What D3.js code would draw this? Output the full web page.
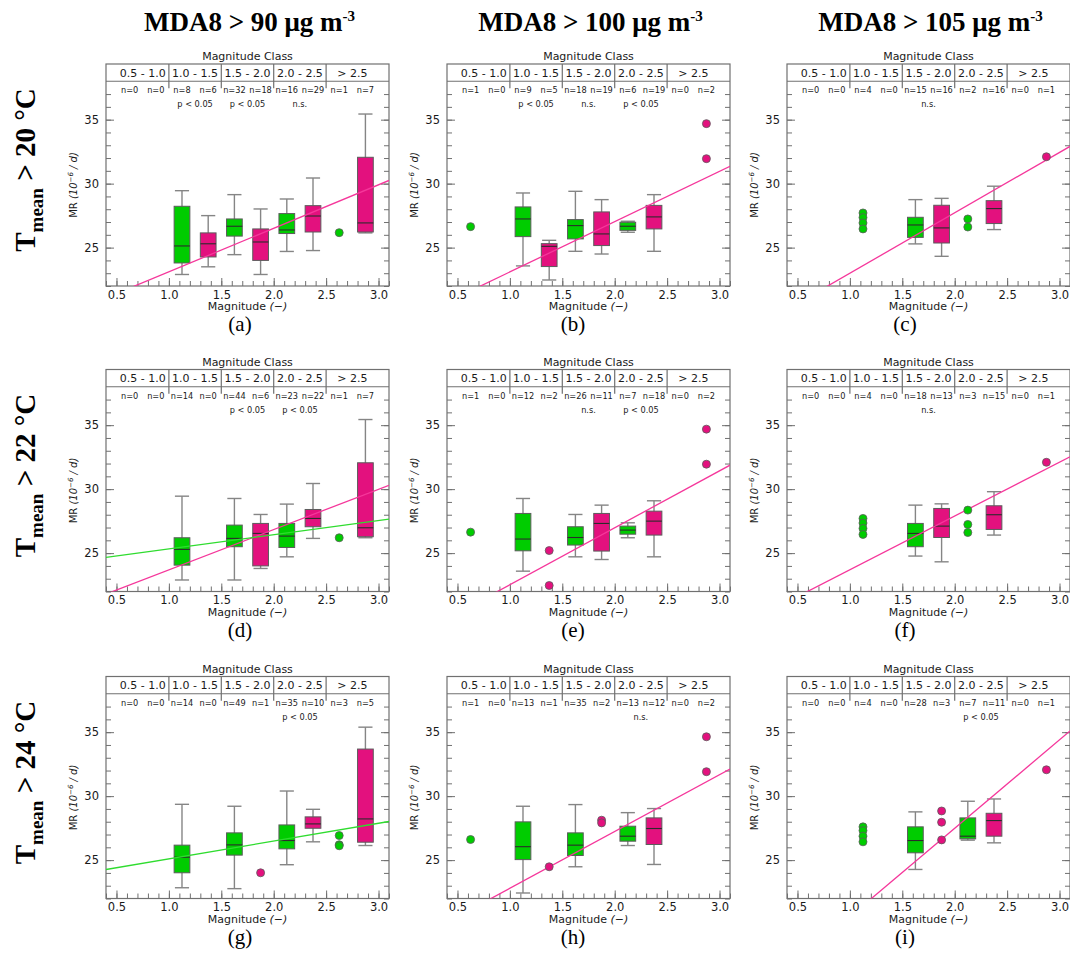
<!DOCTYPE html>
<html>
<head>
<meta charset="utf-8">
<script src="https://cdn.jsdelivr.net/npm/d3@7"></script>
<style>
  body { margin: 0; background: #fff; }
  svg { display: block; }
</style>
</head>
<body>
<div id="chart"></div>
<script>
// ---- data -------------------------------------------------------------
const classLabels = ['0.5 - 1.0', '1.0 - 1.5', '1.5 - 2.0', '2.0 - 2.5', '> 2.5'];
const classCenters = [0.75, 1.25, 1.75, 2.25, 2.75];
const classEdges = [1.0, 1.5, 2.0, 2.5];
const groupPos = [0.625, 0.875, 1.125, 1.375, 1.625, 1.875, 2.125, 2.375, 2.625, 2.875];
const xTicks = [0.5, 1.0, 1.5, 2.0, 2.5, 3.0];
const yTicks = [25, 30, 35];

const colTitles = ['MDA8 > 90 μg m', 'MDA8 > 100 μg m', 'MDA8 > 105 μg m'];
const rowTemps = ['20', '22', '24'];
const panelTags = ['(a)', '(b)', '(c)', '(d)', '(e)', '(f)', '(g)', '(h)', '(i)'];

// n per group (green, magenta alternating by class)
const nCounts = [
  [0, 0, 8, 6, 32, 18, 16, 29, 1, 7],
  [1, 0, 9, 5, 18, 19, 6, 19, 0, 2],
  [0, 0, 4, 0, 15, 16, 2, 16, 0, 1],
  [0, 0, 14, 0, 44, 6, 23, 22, 1, 7],
  [1, 0, 12, 2, 26, 11, 7, 18, 0, 2],
  [0, 0, 4, 0, 18, 13, 3, 15, 0, 1],
  [0, 0, 14, 0, 49, 1, 35, 10, 3, 5],
  [1, 0, 13, 1, 35, 2, 13, 12, 0, 2],
  [0, 0, 4, 0, 28, 3, 7, 11, 0, 1],
];
const pTests = [
  ['', 'p < 0.05', 'p < 0.05', 'n.s.', ''],
  ['', 'p < 0.05', 'n.s.', 'p < 0.05', ''],
  ['', '', 'n.s.', '', ''],
  ['', '', 'p < 0.05', 'p < 0.05', ''],
  ['', '', 'n.s.', 'p < 0.05', ''],
  ['', '', 'n.s.', '', ''],
  ['', '', '', 'p < 0.05', ''],
  ['', '', '', 'n.s.', ''],
  ['', '', '', 'p < 0.05', ''],
];

// box stats: [magnitude, low whisker, q1, median, q3, high whisker]
const greenBoxes = [
  [[1.125, 22.9, 23.8, 25.13, 28.23, 29.45], [1.625, 24.45, 25.9, 26.67, 27.24, 29.14], [2.125, 24.7, 26.1, 26.38, 27.66, 28.8]],
  [[1.125, 23.57, 25.86, 27.24, 28.18, 29.27], [1.625, 24.71, 25.68, 26.72, 27.19, 29.4], [2.125, 26.2, 26.35, 26.67, 26.98, 27.06]],
  [[1.625, 25.29, 25.8, 26.77, 27.37, 28.75]],
  [[1.125, 22.9, 24.06, 25.29, 26.2, 29.45], [1.625, 22.9, 25.5, 26.15, 27.19, 29.27], [2.125, 24.71, 25.44, 26.33, 27.32, 28.83]],
  [[1.125, 23.59, 25.18, 26.1, 28.1, 29.27], [1.625, 24.71, 25.63, 26.22, 27.06, 28.02], [2.125, 26.2, 26.48, 26.8, 27.11, 27.37]],
  [[1.625, 24.77, 25.5, 26.54, 27.32, 28.75]],
  [[1.125, 22.84, 24.01, 25.23, 26.17, 29.36], [1.625, 22.77, 25.39, 26.19, 27.13, 29.21], [2.125, 24.64, 25.88, 26.53, 27.75, 30.4]],
  [[1.125, 22.43, 25.04, 26.05, 27.99, 29.21], [1.625, 24.48, 25.36, 26.17, 27.13, 29.34], [2.125, 26.14, 26.48, 26.87, 27.65, 28.71]],
  [[1.625, 24.27, 25.57, 26.53, 27.6, 28.77], [2.125, 26.56, 26.66, 26.87, 28.3, 29.6]],
];
const magentaBoxes = [
  [[1.375, 23.5, 24.27, 25.3, 26.15, 27.5], [1.875, 22.9, 24.0, 25.44, 26.46, 28.02], [2.375, 24.77, 26.22, 27.47, 28.28, 30.44], [2.875, 26.15, 26.22, 26.93, 32.06, 35.44]],
  [[1.375, 22.47, 23.52, 25.1, 25.31, 25.57], [1.875, 24.5, 25.16, 26.07, 27.79, 28.75], [2.375, 24.71, 26.46, 27.4, 28.3, 29.14]],
  [[1.875, 24.32, 25.36, 26.54, 28.31, 28.85], [2.375, 26.41, 26.88, 28.05, 28.67, 29.8]],
  [[1.875, 23.8, 24.0, 26.54, 27.32, 28.02], [2.375, 26.15, 27.06, 27.71, 28.41, 30.44], [2.875, 26.2, 26.28, 26.98, 32.06, 35.44]],
  [[1.875, 24.5, 25.16, 27.32, 28.1, 28.75], [2.375, 24.71, 26.41, 27.5, 28.28, 29.09]],
  [[1.875, 24.32, 26.22, 27.11, 28.49, 28.85], [2.375, 26.41, 26.85, 28.0, 28.7, 29.8]],
  [[2.375, 26.43, 27.49, 27.83, 28.38, 28.97], [2.875, 26.14, 26.4, 28.22, 33.68, 35.39]],
  [[2.375, 24.66, 26.22, 27.47, 28.3, 29.03]],
  [[2.375, 26.35, 26.87, 28.09, 28.66, 29.78]],
];

// single observations: [magnitude, MR]
const greenPoints = [
  [[2.625, 26.17]],
  [[0.625, 26.64]],
  [[1.125, 27.71], [1.125, 27.35], [1.125, 26.93], [1.125, 26.46], [2.125, 27.24], [2.125, 26.61]],
  [[2.625, 26.2]],
  [[0.625, 26.64]],
  [[1.125, 27.71], [1.125, 27.35], [1.125, 26.93], [1.125, 26.46], [2.125, 28.36], [2.125, 27.24], [2.125, 26.61]],
  [[2.625, 26.92], [2.625, 26.2], [2.625, 26.12]],
  [[0.625, 26.61]],
  [[1.125, 27.6], [1.125, 27.31], [1.125, 26.87], [1.125, 26.43]],
];
const magentaPoints = [
  [],
  [[2.875, 34.69], [2.875, 31.95]],
  [[2.875, 32.1]],
  [],
  [[1.375, 25.2], [1.375, 22.47], [2.875, 34.69], [2.875, 31.95]],
  [[2.875, 32.1]],
  [[1.875, 24.01]],
  [[1.375, 24.48], [1.875, 28.12], [1.875, 27.91], [2.875, 34.64], [2.875, 31.91]],
  [[1.875, 28.84], [1.875, 27.96], [1.875, 26.58], [2.875, 32.06]],
];

// linear fits: [slope, intercept] or null
const magentaFits = [[3.4, 19.71], [3.93, 19.17], [4.72, 18.28], [3.15, 20.54], [4.45, 18.08], [4.2, 19.5], null, [4.44, 18.36], [6.91, 13.67]];
const greenFits = [null, null, null, [1.11, 24.22], null, null, [1.39, 23.71], null, null];

// ---- layout -----------------------------------------------------------
const W = 1070, H = 965;
const colLeft = [106, 447, 787];
const rowTop = [64, 369.5, 676.5];
const plotW = 283, plotH = 222;
const C = {
  green: '#00cc00', magenta: '#e3117e',
  greenLine: '#2fdc2f', magentaLine: '#f5379b',
  frame: '#707070', whisker: '#858585', edge: '#5c5c5c', median: '#2b2b2b', text: '#1a1a1a',
};
const SANS = 'DejaVu Sans, sans-serif';
const SERIF = 'Liberation Serif, Times New Roman, serif';

const svg = d3.select('#chart').append('svg')
  .attr('width', W).attr('height', H)
  .attr('viewBox', `0 0 ${W} ${H}`);

// column titles
colTitles.forEach((t, c) => {
  const txt = svg.append('text')
    .attr('x', colLeft[c] + plotW / 2 + 2).attr('y', 31)
    .attr('text-anchor', 'middle')
    .attr('font-family', SERIF).attr('font-weight', 'bold').attr('font-size', 27)
    .attr('fill', '#000')
    .text(t);
  txt.append('tspan').attr('dy', -10).attr('font-size', 15).text('-3');
});

// row labels
rowTemps.forEach((t, r) => {
  const cy = rowTop[r] + plotH / 2 - 5;
  const g = svg.append('g').attr('transform', `translate(35,${cy}) rotate(-90)`);
  const txt = g.append('text')
    .attr('text-anchor', 'middle')
    .attr('font-family', SERIF).attr('font-weight', 'bold').attr('font-size', 29)
    .attr('fill', '#000');
  txt.append('tspan').text('T');
  txt.append('tspan').attr('dy', 8).attr('font-size', 19).text('mean');
  txt.append('tspan').attr('dy', -8).text(` > ${t} °C`);
});

const defs = svg.append('defs');

panelTags.forEach((tag, i) => {
  const col = i % 3, row = Math.floor(i / 3);
  const left = colLeft[col], top = rowTop[row];
  const x = d3.scaleLinear().domain([0.4, 3.1]).range([left, left + plotW]);
  const y = d3.scaleLinear().domain([22, 39.35]).range([top + plotH, top]);
  const g = svg.append('g').attr('class', `panel-${i}`);

  defs.append('clipPath').attr('id', `clip${i}`)
    .append('rect').attr('x', left).attr('y', y(38)).attr('width', plotW).attr('height', y(22) - y(38));

  // ticks (inward)
  const minorY = d3.range(22, 38);
  const minorX = d3.range(4, 32).map(d => d / 10);
  const axisStyle = sel => {
    sel.select('.domain').remove();
    sel.selectAll('line').attr('stroke', C.frame);
    sel.selectAll('text').attr('font-family', SANS).attr('font-size', 11.5).attr('fill', C.text);
  };
  g.append('g').attr('transform', `translate(${left},0)`)
    .call(d3.axisLeft(y).tickValues(minorY).tickSize(-5).tickFormat('')).call(axisStyle);
  g.append('g').attr('transform', `translate(${left},0)`)
    .call(d3.axisLeft(y).tickValues(yTicks).tickSize(-8).tickPadding(7).tickFormat(d3.format('d'))).call(axisStyle);
  g.append('g').attr('transform', `translate(${left + plotW},0)`)
    .call(d3.axisRight(y).tickValues(minorY).tickSize(-5).tickFormat('')).call(axisStyle);
  g.append('g').attr('transform', `translate(${left + plotW},0)`)
    .call(d3.axisRight(y).tickValues(yTicks).tickSize(-8).tickFormat('')).call(axisStyle);
  g.append('g').attr('transform', `translate(0,${top + plotH})`)
    .call(d3.axisBottom(x).tickValues(minorX).tickSize(-5).tickFormat('')).call(axisStyle);
  g.append('g').attr('transform', `translate(0,${top + plotH})`)
    .call(d3.axisBottom(x).tickValues(xTicks).tickSize(-8).tickPadding(4.5).tickFormat(d3.format('.1f'))).call(axisStyle);

  // frame + header
  g.append('rect').attr('x', left).attr('y', top).attr('width', plotW).attr('height', plotH)
    .attr('fill', 'none').attr('stroke', C.frame).attr('stroke-width', 1.2);
  g.append('line').attr('x1', left).attr('x2', left + plotW).attr('y1', y(38)).attr('y2', y(38))
    .attr('stroke', C.frame).attr('stroke-width', 1.2);
  g.selectAll('.divider').data(classEdges).join('line')
    .attr('x1', d => x(d)).attr('x2', d => x(d)).attr('y1', top).attr('y2', y(37.45))
    .attr('stroke', C.frame).attr('stroke-width', 1.2);
  g.append('text').attr('x', left + plotW / 2).attr('y', top - 4)
    .attr('text-anchor', 'middle').attr('font-family', SANS).attr('font-size', 11).attr('fill', C.text)
    .text('Magnitude Class');
  g.selectAll('.cls').data(classLabels).join('text')
    .attr('x', (d, k) => x(classCenters[k])).attr('y', top + 12.8)
    .attr('text-anchor', 'middle').attr('font-family', SANS).attr('font-size', 11).attr('fill', C.text)
    .text(d => d);
  g.selectAll('.nlab').data(nCounts[i]).join('text')
    .attr('x', (d, k) => x(groupPos[k])).attr('y', top + 29)
    .attr('text-anchor', 'middle').attr('font-family', SANS).attr('font-size', 8.2).attr('fill', C.text)
    .text(d => `n=${d}`);
  g.selectAll('.plab').data(pTests[i]).join('text')
    .attr('x', (d, k) => x(classCenters[k])).attr('y', top + 43)
    .attr('text-anchor', 'middle').attr('font-family', SANS).attr('font-size', 8.2).attr('fill', C.text)
    .text(d => d);

  // axis labels
  const xl = g.append('text').attr('x', left + plotW / 2).attr('y', top + plotH + 24)
    .attr('text-anchor', 'middle').attr('font-family', SANS).attr('font-size', 11).attr('fill', C.text);
  xl.append('tspan').text('Magnitude ');
  xl.append('tspan').attr('font-style', 'italic').text('(−)');
  const yl = g.append('text')
    .attr('transform', `translate(${left - 29.5},${top + plotH / 2 + 10}) rotate(-90)`)
    .attr('text-anchor', 'middle').attr('font-family', SANS).attr('font-size', 10).attr('fill', C.text);
  yl.append('tspan').text('MR ');
  yl.append('tspan').attr('font-style', 'italic').text('(10');
  yl.append('tspan').attr('font-style', 'italic').attr('font-size', 7).attr('dy', -4).text('−6');
  yl.append('tspan').attr('font-style', 'italic').attr('dy', 4).text(' / d)');

  // boxes
  const bw = x(0.15) - x(0);
  const drawBoxes = (data, fill) => {
    const b = g.append('g').selectAll('g').data(data).join('g');
    b.append('line').attr('x1', d => x(d[0])).attr('x2', d => x(d[0]))
      .attr('y1', d => y(d[1])).attr('y2', d => y(d[5]))
      .attr('stroke', C.whisker).attr('stroke-width', 1.4);
    b.selectAll('.cap').data(d => [[d[0], d[1]], [d[0], d[5]]]).join('line')
      .attr('x1', d => x(d[0]) - bw * 0.45).attr('x2', d => x(d[0]) + bw * 0.45)
      .attr('y1', d => y(d[1])).attr('y2', d => y(d[1]))
      .attr('stroke', C.whisker).attr('stroke-width', 1.4);
    b.append('rect').attr('x', d => x(d[0]) - bw / 2).attr('width', bw)
      .attr('y', d => y(d[4])).attr('height', d => y(d[2]) - y(d[4]))
      .attr('fill', fill).attr('stroke', C.edge).attr('stroke-width', 1);
    b.append('line').attr('x1', d => x(d[0]) - bw / 2).attr('x2', d => x(d[0]) + bw / 2)
      .attr('y1', d => y(d[3])).attr('y2', d => y(d[3]))
      .attr('stroke', C.median).attr('stroke-width', 1.1);
  };
  drawBoxes(greenBoxes[i], C.green);
  drawBoxes(magentaBoxes[i], C.magenta);

  // fits
  const fitLine = (fit, color) => {
    if (!fit) return;
    const [m, b0] = fit;
    g.append('line').attr('clip-path', `url(#clip${i})`)
      .attr('x1', x(0.4)).attr('y1', y(m * 0.4 + b0))
      .attr('x2', x(3.1)).attr('y2', y(m * 3.1 + b0))
      .attr('stroke', color).attr('stroke-width', 1.3);
  };
  fitLine(magentaFits[i], C.magentaLine);
  fitLine(greenFits[i], C.greenLine);

  // single points
  const drawPoints = (data, fill) => {
    g.append('g').selectAll('circle').data(data).join('circle')
      .attr('cx', d => x(d[0])).attr('cy', d => y(d[1])).attr('r', 4)
      .attr('fill', fill).attr('stroke', C.edge).attr('stroke-width', 0.8);
  };
  drawPoints(greenPoints[i], C.green);
  drawPoints(magentaPoints[i], C.magenta);
});

// panel tags
const tagX = [240, 573, 905];
panelTags.forEach((tag, i) => {
  const col = i % 3, row = Math.floor(i / 3);
  svg.append('text')
    .attr('x', tagX[col]).attr('y', rowTop[row] + plotH + 45)
    .attr('text-anchor', 'middle')
    .attr('font-family', SERIF).attr('font-size', 21).attr('fill', '#000')
    .text(tag);
});
</script>
</body>
</html>
